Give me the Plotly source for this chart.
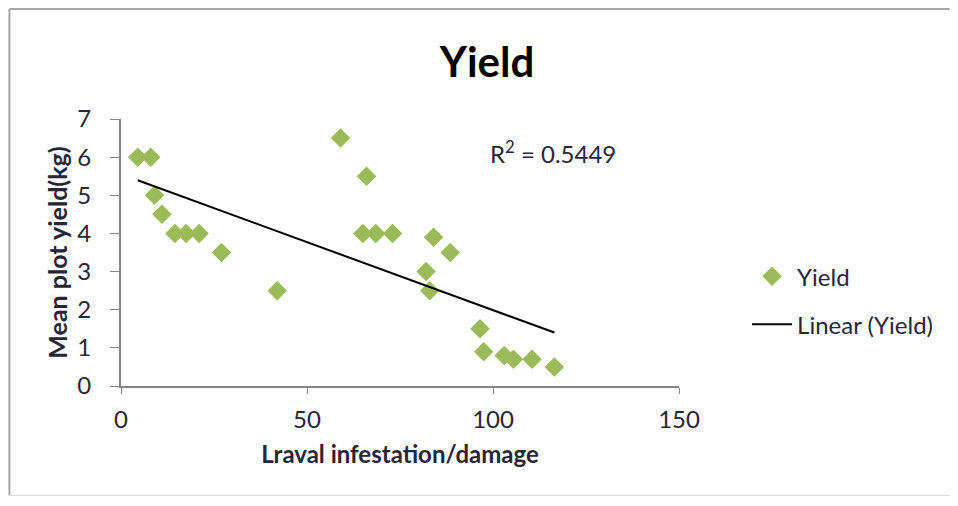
import numpy as np
import plotly.graph_objects as go

# Larval infestation/damage vs mean plot yield (kg)
infestation = [4.5, 8, 9, 11, 14.5, 17.5, 21, 27, 42, 59, 66, 65, 68.5, 73,
               84, 88.5, 82, 83, 96.5, 97.5, 103, 105.5, 110.5, 116.5]
yield_kg = [6.0, 6.0, 5.0, 4.5, 4.0, 4.0, 4.0, 3.5, 2.5, 6.5, 5.5, 4.0, 4.0, 4.0,
            3.9, 3.5, 3.0, 2.5, 1.5, 0.9, 0.8, 0.7, 0.7, 0.5]
x_ticks = [0, 50, 100, 150]
y_ticks = [0, 1, 2, 3, 4, 5, 6, 7]
r2_label = "R<sup>2</sup> = 0.5449"

GREEN = "#9BBB59"
TEXT = "#262637"
AXIS = "#868686"
BORDER = "#A6A6A6"
FONT = "Lato, Open Sans, sans-serif"

# linear trendline over the data span
slope, intercept = np.polyfit(infestation, yield_kg, 1)
trend_x = [min(infestation), max(infestation)]
trend_y = [slope * v + intercept for v in trend_x]

fig = go.Figure()
fig.add_trace(go.Scatter(
    x=infestation, y=yield_kg, mode="markers", name="Yield", legendgroup="a",
    marker=dict(symbol="diamond", size=15, color=GREEN),
))
fig.add_trace(go.Scatter(
    x=trend_x, y=trend_y, mode="lines", name="Linear (Yield)", legendgroup="b",
    line=dict(color="#000000", width=2),
))

fig.add_annotation(
    x=0.658, y=0.876, xref="paper", yref="paper", text=r2_label,
    showarrow=False, xanchor="left", yanchor="middle",
    font=dict(family=FONT, size=24, color=TEXT),
)

# outer chart border: top, left and bottom edges, stopping at the page edge
fig.add_shape(type="line", xref="paper", yref="paper",
              x0=-0.2, x1=1.485, y0=1.412, y1=1.412, line=dict(color=BORDER, width=2))
fig.add_shape(type="line", xref="paper", yref="paper",
              x0=-0.2, x1=-0.2, y0=-0.41, y1=1.412, line=dict(color=BORDER, width=2))
fig.add_shape(type="line", xref="paper", yref="paper",
              x0=-0.2, x1=1.485, y0=-0.41, y1=-0.41, line=dict(color="#D9D9D9", width=1))

fig.update_xaxes(
    range=[0, 150], tickvals=x_ticks, showgrid=False, zeroline=False,
    showline=True, linecolor=AXIS, linewidth=2,
    ticks="outside", ticklen=6, tickcolor=AXIS, tickwidth=1,
    ticklabelstandoff=5,
    tickfont=dict(family=FONT, size=24, color=TEXT),
    title=dict(text="<b>Lraval infestation/damage</b>", standoff=14,
               font=dict(family=FONT, size=24, color=TEXT)),
)
fig.update_yaxes(
    range=[0, 7], tickvals=y_ticks, showgrid=False, zeroline=False,
    showline=True, linecolor=AXIS, linewidth=2,
    ticks="outside", ticklen=9, tickcolor=AXIS, tickwidth=1,
    ticklabelstandoff=14,
    tickfont=dict(family=FONT, size=24, color=TEXT),
    title=dict(text="<b>Mean plot yield(kg)</b>", standoff=3,
               font=dict(family=FONT, size=25, color=TEXT)),
)

fig.update_layout(
    width=942, height=490,
    margin=dict(l=113, r=271, t=111, b=112),
    paper_bgcolor="white", plot_bgcolor="white",
    title=dict(text="<b>Yield</b>", x=0.5085, xanchor="center",
               y=0.89, yanchor="middle",
               font=dict(family=FONT, size=42, color="#000000")),
    showlegend=True,
    legend=dict(x=1.122, y=0.32, xanchor="left", yanchor="middle",
                font=dict(family=FONT, size=24, color=TEXT),
                itemwidth=40, tracegroupgap=14, traceorder="grouped",
                bgcolor="rgba(0,0,0,0)"),
)

fig.write_html("out.html")
